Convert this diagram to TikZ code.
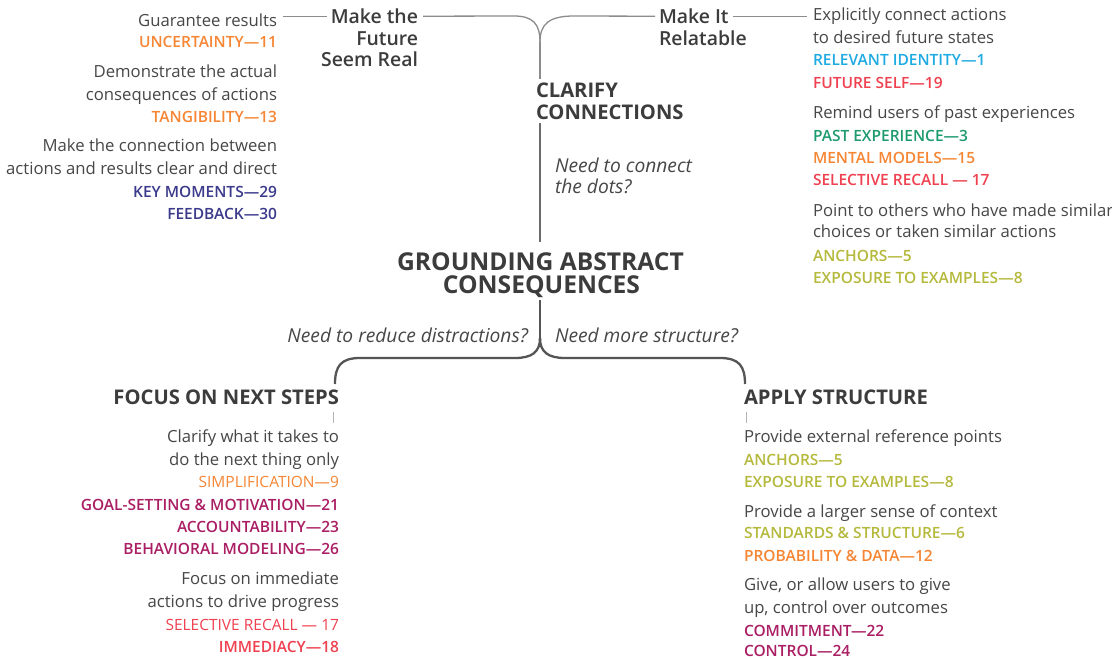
\documentclass[tikz,border=0pt]{standalone}
\usepackage{fontspec}
\setmainfont{Open Sans}
\IfFontExistsTF{Open Sans SemiBold}
  {\newfontfamily\semib{Open Sans SemiBold}}
  {\IfFontExistsTF{Open Sans Semibold}
    {\newfontfamily\semib{Open Sans Semibold}}
    {\newcommand\semib{\bfseries}}}
\usetikzlibrary{calc}
\definecolor{ink}{HTML}{474747}
\definecolor{headink}{HTML}{3C3C3C}
\definecolor{cOrange}{HTML}{F68634}
\definecolor{cNavy}{HTML}{3B3A8C}
\definecolor{cCyan}{HTML}{1EAAE2}
\definecolor{cRed}{HTML}{EF4150}
\definecolor{cGreen}{HTML}{1E9B6E}
\definecolor{cOlive}{HTML}{B5B93C}
\definecolor{cMagenta}{HTML}{AA1E64}
\definecolor{twiggray}{HTML}{8C8C8C}
\definecolor{stemgray}{HTML}{6B6B6B}
\definecolor{bracegray}{HTML}{555555}
\definecolor{tickgray}{HTML}{B4B4B4}
\tikzset{
  txt/.style={inner sep=0pt, outer sep=0pt, text=ink},
  body/.style={txt, font=\fontsize{16.7}{20}\selectfont},
  code/.style={txt, font=\semib\fontsize{15.5}{18}\selectfont},
  codelite/.style={txt, font=\fontsize{15.5}{18}\selectfont},
  branch/.style={txt, text=headink, font=\semib\fontsize{19.4}{22}\selectfont},
  head/.style={txt, text=headink, font=\bfseries\fontsize{20.2}{22}\selectfont},
  core/.style={txt, text=headink, font=\bfseries\fontsize{24.6}{24}\selectfont},
  ask/.style={txt, text=ink, font=\itshape\fontsize{19.2}{21}\selectfont},
  rt/.style={anchor=base east},
  lf/.style={anchor=base west},
  ct/.style={anchor=base},
  twig/.style={draw=twiggray, line width=1.3pt},
  stem/.style={draw=stemgray, line width=2pt},
  brace/.style={draw=bracegray, line width=2.3pt},
  tickline/.style={draw=tickgray, line width=1pt}
}
\begin{document}
\begin{tikzpicture}[x=1pt,y=-1pt]
\useasboundingbox (0,0) rectangle (1112,659);
\path[fill=white] (0,0) rectangle (1112,659);

% ---- core and main branch headings
\node[core,ct] (core1) at (540.5,270) {GROUNDING ABSTRACT};
\node[core,ct] (core2) at (541.5,293) {CONSEQUENCES};
\node[head,lf] (cc1) at (536,97) {CLARIFY};
\node[head,lf] (cc2) at (536,119) {CONNECTIONS};
\node[ask,lf] (q1) at (555,172.5) {Need to connect};
\node[ask,lf] (q1b) at (555,193.5) {the dots?};
\node[ask,rt] (q2) at (528,342) {Need to reduce distractions?};
\node[ask,lf] (q3) at (555,342) {Need more structure?};
\node[head,rt] (fs) at (339,404) {FOCUS ON NEXT STEPS};
\node[head,lf] (as) at (744,404) {APPLY STRUCTURE};

% ---- sub-branch headings under CLARIFY CONNECTIONS
\node[branch,rt] (mf1) at (418,23.5) {Make the};
\node[branch,rt] (mf2) at (418,45.5) {Future};
\node[branch,rt] (mf3) at (418,66.5) {Seem Real};
\node[branch,lf] (mi1) at (659,23.5) {Make It};
\node[branch,lf] (mi2) at (659,45.5) {Relatable};

% ---- Make the Future Seem Real
\node[body,rt] (tl1) at (277,26) {Guarantee results};
\node[code,rt,text=cOrange] (tl2) at (277,47) {UNCERTAINTY—11};
\node[body,rt] (tl3) at (277,77) {Demonstrate the actual};
\node[body,rt] (tl4) at (277,100) {consequences of actions};
\node[code,rt,text=cOrange] (tl5) at (277,122) {TANGIBILITY—13};
\node[body,rt] (tl6) at (277,151) {Make the connection between};
\node[body,rt] (tl7) at (277,174) {actions and results clear and direct};
\node[code,rt,text=cNavy] (tl8) at (277,197) {KEY MOMENTS—29};
\node[code,rt,text=cNavy] (tl9) at (277,219) {FEEDBACK—30};

% ---- Make It Relatable
\node[body,lf] (tr1) at (813,20) {Explicitly connect actions};
\node[body,lf] (tr2) at (813,43) {to desired future states};
\node[code,lf,text=cCyan] (tr3) at (813,65) {RELEVANT IDENTITY—1};
\node[code,lf,text=cRed] (tr4) at (813,88) {FUTURE SELF—19};
\node[body,lf] (tr5) at (813,118) {Remind users of past experiences};
\node[code,lf,text=cGreen] (tr6) at (813,141) {PAST EXPERIENCE—3};
\node[code,lf,text=cOrange] (tr7) at (813,163) {MENTAL MODELS—15};
\node[code,lf,text=cRed] (tr8) at (813,185) {SELECTIVE RECALL — 17};
\node[body,lf] (tr9) at (813,216) {Point to others who have made similar};
\node[body,lf] (tr10) at (813,237) {choices or taken similar actions};
\node[code,lf,text=cOlive] (tr11) at (813,261) {ANCHORS—5};
\node[code,lf,text=cOlive] (tr12) at (813,283) {EXPOSURE TO EXAMPLES—8};

% ---- Focus on next steps
\node[body,rt] (bl1) at (339,442) {Clarify what it takes to};
\node[body,rt] (bl2) at (339,465) {do the next thing only};
\node[codelite,rt,text=cOrange] (bl3) at (339,487) {SIMPLIFICATION—9};
\node[code,rt,text=cMagenta] (bl4) at (339,510) {GOAL-SETTING \& MOTIVATION—21};
\node[code,rt,text=cMagenta] (bl5) at (339,532) {ACCOUNTABILITY—23};
\node[code,rt,text=cMagenta] (bl6) at (339,554) {BEHAVIORAL MODELING—26};
\node[body,rt] (bl7) at (339,584) {Focus on immediate};
\node[body,rt] (bl8) at (339,607) {actions to drive progress};
\node[codelite,rt,text=cRed] (bl9) at (339,630) {SELECTIVE RECALL — 17};
\node[code,rt,text=cRed] (bl10) at (339,652) {IMMEDIACY—18};

% ---- Apply structure
\node[body,lf] (br1) at (744,442) {Provide external reference points};
\node[code,lf,text=cOlive] (br2) at (744,465) {ANCHORS—5};
\node[code,lf,text=cOlive] (br3) at (744,487) {EXPOSURE TO EXAMPLES—8};
\node[body,lf] (br4) at (744,517) {Provide a larger sense of context};
\node[code,lf,text=cOlive] (br5) at (744,538) {STANDARDS \& STRUCTURE—6};
\node[code,lf,text=cOrange] (br6) at (744,561) {PROBABILITY \& DATA—12};
\node[body,lf] (br7) at (744,590) {Give, or allow users to give};
\node[body,lf] (br8) at (744,613) {up, control over outcomes};
\node[code,lf,text=cMagenta] (br9) at (744,636) {COMMITMENT—22};
\node[code,lf,text=cMagenta] (br10) at (744,656.5) {CONTROL—24};

% ---- upper fork into CLARIFY CONNECTIONS
\coordinate (fork) at (540,42);
\draw[twig] ($(tl1.east|-mf1.west)+(6,0)$) -- ($(mf1.west)+(-4,0)$);
\draw[twig] ($(mf1.east)+(5,0)$) -- ($(fork)+(-26,-26)$)
  .. controls ($(fork)+(-7,-26)$) and ($(fork)+(0,-18)$) .. (fork);
\draw[twig] (fork) .. controls ($(fork)+(0,-18)$) and ($(fork)+(9,-26)$)
  .. ($(fork)+(34,-26)$) -- ($(mi1.west)+(-4,0)$);
\draw[twig] ($(mi1.east)+(4,0)$) -- ($(tr1.west|-mi1.east)+(-6,0)$);
\draw[twig] (fork) -- ($(fork|-cc1.north)+(0,-3)$);

% ---- stem from CLARIFY CONNECTIONS to the core
\draw[stem] ($(cc2.south west)+(4,4)$) -- ($(cc2.south west|-core1.north)+(4,-10)$);

% ---- lower brace to the two bottom branches
\coordinate (split) at (540,338);
\coordinate (bl) at (335,384);
\coordinate (br) at (745,384);
\draw[brace] (split|-core2.south) ++(0,3) -- (split);
\draw[brace] (split) .. controls (540,352) and (532,358) .. (515,358)
  -- (360,358) .. controls (341,358) and (335,366) .. (bl);
\draw[brace] (split) .. controls (540,352) and (548,358) .. (565,358)
  -- (720,358) .. controls (739,358) and (745,366) .. (br);

% ---- short ticks under the bottom headings
\draw[tickline] ($(fs.south east)+(-6,8)$) -- ($(fs.south east)+(-6,19)$);
\draw[tickline] ($(as.south west)+(2,8)$) -- ($(as.south west)+(2,19)$);
\end{tikzpicture}
\end{document}
